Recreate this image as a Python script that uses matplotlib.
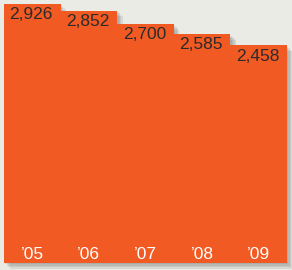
import matplotlib.pyplot as plt
import matplotlib.patheffects as pe

# data
years = ["\u201905", "\u201906", "\u201907", "\u201908", "\u201909"]
values = [2926, 2852, 2700, 2585, 2458]

BAR_COLOR = "#f15a22"
BG_COLOR = "#eaebe5"
TEXT_COLOR = "#2b2b2b"

plt.rcParams["font.family"] = ["Liberation Sans", "DejaVu Sans"]

fig = plt.figure(figsize=(2.92, 2.70), dpi=100, facecolor=BG_COLOR)
W, H = 292, 270
ax = fig.add_axes([4 / W, 7 / H, 283 / W, 259 / H])
ax.set_facecolor("none")

x = range(len(values))
bars = ax.bar(x, values, width=1.0, color=BAR_COLOR, linewidth=0,
              clip_on=False)
# soft drop shadow: stack a few faint offset copies
shadow = [pe.SimplePatchShadow(offset=(d, -d), shadow_rgbFace="#555555", alpha=0.12)
          for d in (4, 3, 2, 1)]
for b in bars:
    b.set_path_effects(shadow + [pe.Normal()])

ax.set_xlim(-0.5, len(values) - 0.5)
ax.set_ylim(0, values[0])

for i, v in enumerate(values):
    ax.text(i - 0.02, v - 35, f"{v:,}", ha="center", va="top", fontsize=12.5,
            color=TEXT_COLOR)
    ax.text(i, 100, years[i], ha="center", va="center", fontsize=12.5,
            color="white")

ax.axis("off")
fig.savefig("out.png", dpi=100, facecolor=BG_COLOR)
